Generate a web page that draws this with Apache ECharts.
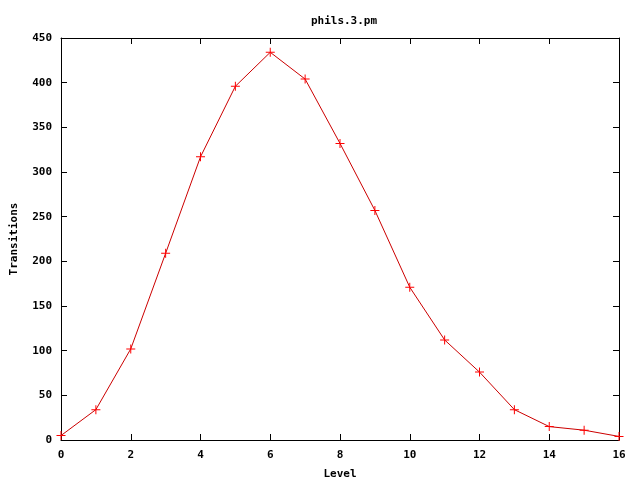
<!DOCTYPE html>
<html><head><meta charset="utf-8">
<script src="https://cdn.jsdelivr.net/npm/echarts@6/dist/echarts.min.js"></script>
<style>html,body{margin:0;padding:0;background:#fff}#c{width:640px;height:480px}</style>
</head><body><div id="c"></div>
<script>
const levels = [0,1,2,3,4,5,6,7,8,9,10,11,12,13,14,15,16];
const transitions = [5,34,102,209,317,396,434,404,332,257,171,112,76,34,15,11,4];
const titleText = 'phils.3.pm';
const xName = 'Level';
const yName = 'Transitions';

const font = 'DejaVu Sans Mono';
const chart = echarts.init(document.getElementById('c'), null, {renderer:'canvas'});
const axisCommon = () => ({
  axisLine:{show:true, onZero:false, lineStyle:{color:'#000', width:1}},
  axisTick:{show:true, inside:true, length:6, lineStyle:{color:'#000'}},
  splitLine:{show:false}
});
const labelStyle = {color:'#000', fontFamily:font, fontWeight:'bold', fontSize:11};
chart.setOption({
  animation:false,
  backgroundColor:'#fff',
  title:{text:titleText, left:339, top:11, textAlign:'center',
    textStyle:{fontFamily:font, fontWeight:'bold', fontSize:11, color:'#000'}},
  grid:{left:61, right:21, top:38, bottom:40, outerBoundsMode:'none', containLabel:false},
  xAxis:[
    Object.assign({type:'value', min:0, max:16, interval:2, position:'bottom',
      name:xName, nameLocation:'middle', nameGap:29, nameTextStyle:labelStyle,
      axisLabel:Object.assign({margin:10}, labelStyle)}, axisCommon()),
    Object.assign({type:'value', min:0, max:16, interval:2, position:'top',
      axisLabel:{show:false}}, axisCommon())
  ],
  yAxis:[
    Object.assign({type:'value', min:0, max:450, interval:50, position:'left',
      name:yName, nameLocation:'middle', nameGap:41, nameRotate:90, nameTextStyle:labelStyle,
      axisLabel:Object.assign({margin:9}, labelStyle)}, axisCommon()),
    Object.assign({type:'value', min:0, max:450, interval:50, position:'right',
      axisLabel:{show:false}}, axisCommon())
  ],
  series:[{
    type:'line',
    data: levels.map((l,i)=>[l, transitions[i]]),
    lineStyle:{color:'#cc0000', width:1},
    itemStyle:{color:'#ff0000'},
    symbol:'path://M4,0H5V4H9V5H5V9H4V5H0V4H4Z',
    symbolSize:9,
    showAllSymbol:true,
    clip:false
  }]
});
</script></body></html>
